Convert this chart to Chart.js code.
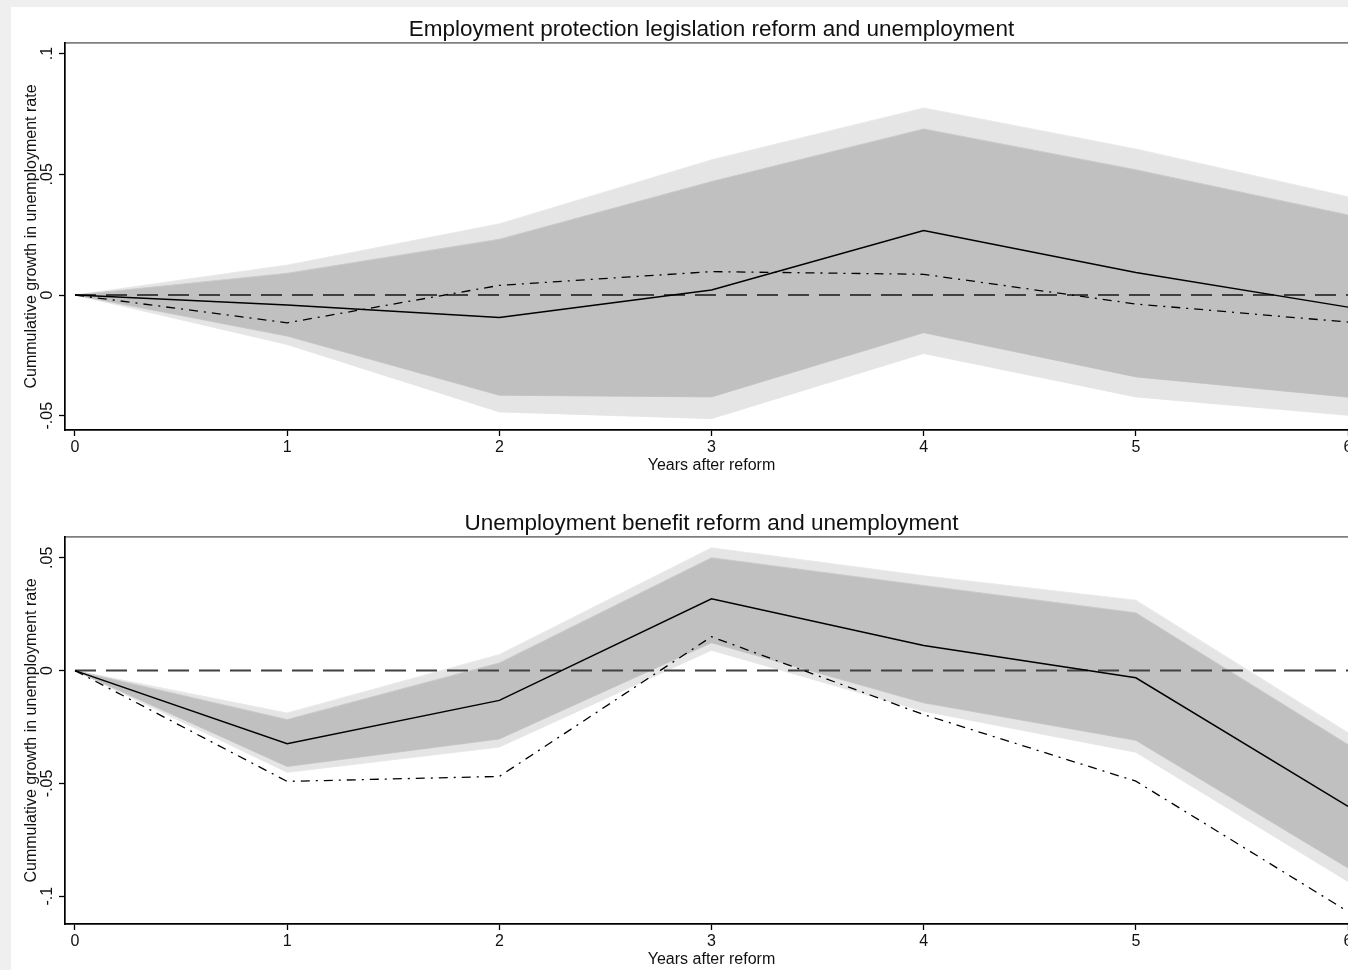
<!DOCTYPE html>
<html>
<head>
<meta charset="utf-8">
<title>Reform and unemployment</title>
<script src="https://cdn.jsdelivr.net/npm/chart.js@4/dist/chart.umd.min.js"></script>
<style>
  html, body { margin: 0; padding: 0; width: 1348px; height: 970px; overflow: hidden; background: #efefef; }
  #sheet { position: absolute; left: 11px; top: 7px; width: 1500px; height: 1000px; background: #fff; }
  canvas { position: absolute; left: 0; }
  #epl { top: 0; }
  #ub { top: 494px; }
</style>
</head>
<body>
<div id="sheet"></div>
<canvas id="epl" width="1420" height="476"></canvas>
<canvas id="ub" width="1420" height="476"></canvas>
<script>
// Horizon (years after the reform) and its tick labels
const years = [0, 1, 2, 3, 4, 5, 6];
const yearLabels = ['0', '1', '2', '3', '4', '5', '6'];
const zeroLine = [0, 0, 0, 0, 0, 0, 0];

// Employment protection legislation reform
const eplEstimate   = [0, -0.0041, -0.0093, 0.0021, 0.0267, 0.0093, -0.0050];
const eplAlternative = [0, -0.0115, 0.0040, 0.0097, 0.0086, -0.0037, -0.0112];
const eplInnerUpper = [0, 0.0090, 0.0231, 0.0470, 0.0688, 0.0519, 0.0332];
const eplInnerLower = [0, -0.0170, -0.0415, -0.0422, -0.0156, -0.0339, -0.0423];
const eplOuterUpper = [0, 0.0124, 0.0295, 0.0560, 0.0775, 0.0605, 0.0407];
const eplOuterLower = [0, -0.0205, -0.0484, -0.0512, -0.0242, -0.0422, -0.0498];
const eplYTicks  = [-0.05, 0, 0.05, 0.1];
const eplYLabels = ['-.05', '0', '.05', '.1'];

// Unemployment benefit reform
const ubEstimate    = [0, -0.0324, -0.0132, 0.0318, 0.0111, -0.0032, -0.0602];
const ubAlternative = [0, -0.0491, -0.0469, 0.0150, -0.0195, -0.0490, -0.1068];
const ubInnerUpper  = [0, -0.0217, 0.0034, 0.0500, 0.0377, 0.0256, -0.0328];
const ubInnerLower  = [0, -0.0425, -0.0303, 0.0123, -0.0143, -0.0309, -0.0875];
const ubOuterUpper  = [0, -0.0188, 0.0071, 0.0544, 0.0420, 0.0312, -0.0275];
const ubOuterLower  = [0, -0.0451, -0.0339, 0.0090, -0.0180, -0.0362, -0.0935];
const ubYTicks  = [-0.1, -0.05, 0, 0.05];
const ubYLabels = ['-.1', '-.05', '0', '.05'];

Chart.defaults.font.family = "'Liberation Sans', Arial, Helvetica, sans-serif";
Chart.defaults.font.size = 16;
Chart.defaults.color = '#111';

const toXY = (vals) => vals.map((v, i) => ({ x: years[i], y: v }));

function line(vals, opts) {
  return Object.assign({
    data: toXY(vals), pointRadius: 0, tension: 0, fill: false,
    borderColor: '#000', borderWidth: 1.5
  }, opts);
}

function drawPanel(id, cfg) {
  const tickMarks = { display: true, drawOnChartArea: false, drawTicks: true, tickLength: 6, tickWidth: 1.3, tickColor: '#000' };
  return new Chart(document.getElementById(id), {
    type: 'line',
    data: {
      datasets: [
        line(cfg.estimate, { label: 'Estimate', borderWidth: 1.5 }),
        line(cfg.alternative, { label: 'Alternative', borderWidth: 1.3, borderDash: [9, 6, 2, 6] }),
        line(zeroLine, { label: 'Zero', borderColor: '#404040', borderWidth: 2, borderDash: [21, 10] }),
        line(cfg.innerUpper, { label: 'Inner upper', fill: '+1', backgroundColor: '#c0c0c0', borderColor: '#cbcbcb', borderWidth: 1 }),
        line(cfg.innerLower, { label: 'Inner lower', borderColor: '#cbcbcb', borderWidth: 1 }),
        line(cfg.outerUpper, { label: 'Outer upper', fill: '+1', backgroundColor: '#e5e5e5', borderColor: '#eaeaea', borderWidth: 1 }),
        line(cfg.outerLower, { label: 'Outer lower', borderColor: '#eaeaea', borderWidth: 1 })
      ]
    },
    options: {
      responsive: false,
      animation: false,
      events: [],
      layout: { padding: { left: 0, right: 62, top: 0, bottom: 0 } },
      plugins: {
        legend: { display: false },
        tooltip: { enabled: false },
        title: {
          display: true, text: cfg.title, fullSize: false,
          font: { size: 22.5, weight: 'normal' }, color: '#111',
          padding: { top: 16, bottom: 0 }
        }
      },
      scales: {
        x: {
          type: 'linear', position: 'bottom', min: -0.0471, max: 6.0471,
          afterBuildTicks: (s) => { s.ticks = years.map(v => ({ value: v })); },
          afterFit: (s) => { s.height = 46; },
          ticks: { callback: (v, i) => yearLabels[i], padding: 2, maxRotation: 0, autoSkip: false, color: '#111' },
          grid: tickMarks,
          border: { display: true, color: '#000', width: 1.7 },
          title: { display: true, text: 'Years after reform', color: '#111', padding: { top: 0, bottom: 0.5 } }
        },
        xTop: {
          type: 'linear', position: 'top', min: -0.0471, max: 6.0471,
          afterFit: (s) => { s.height = 0; },
          ticks: { display: false },
          grid: { display: false },
          border: { display: true, color: '#7f7f7f', width: 1.7 }
        },
        y: {
          type: 'linear', position: 'left', min: cfg.yMin, max: cfg.yMax,
          afterBuildTicks: (s) => { s.ticks = cfg.yTicks.map(v => ({ value: v })); },
          afterFit: (s) => { s.width = 65; },
          ticks: { callback: (v, i) => cfg.yLabels[i], minRotation: 90, maxRotation: 90, crossAlign: 'center', padding: -2.5, color: '#111' },
          grid: tickMarks,
          border: { display: true, color: '#000', width: 1.7 },
          title: { display: true, text: 'Cummulative growth in unemployment rate', color: '#111', padding: { top: 21.5, bottom: 0 } }
        }
      }
    }
  });
}

drawPanel('epl', {
  title: 'Employment protection legislation reform and unemployment',
  estimate: eplEstimate, alternative: eplAlternative,
  innerUpper: eplInnerUpper, innerLower: eplInnerLower,
  outerUpper: eplOuterUpper, outerLower: eplOuterLower,
  yTicks: eplYTicks, yLabels: eplYLabels, yMin: -0.0559, yMax: 0.1044
});

drawPanel('ub', {
  title: 'Unemployment benefit reform and unemployment',
  estimate: ubEstimate, alternative: ubAlternative,
  innerUpper: ubInnerUpper, innerLower: ubInnerLower,
  outerUpper: ubOuterUpper, outerLower: ubOuterLower,
  yTicks: ubYTicks, yLabels: ubYLabels, yMin: -0.1123, yMax: 0.0592
});
</script>
</body>
</html>
